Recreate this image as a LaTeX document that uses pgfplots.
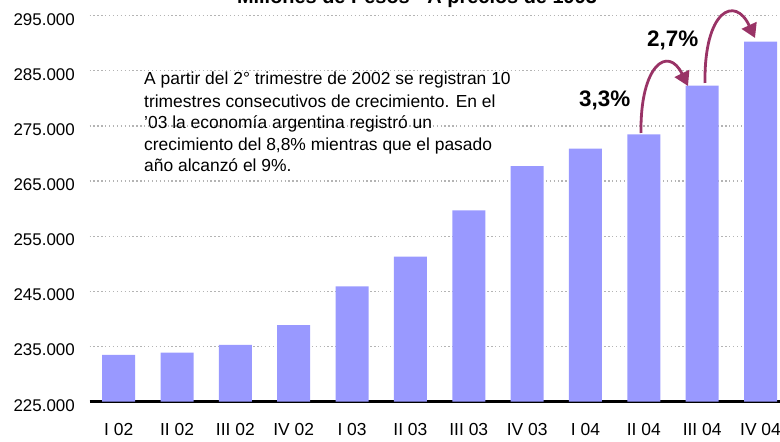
\documentclass[border=0pt]{standalone}
\usepackage{fontspec}
\setmainfont{Liberation Sans}
\usepackage{pgfplots}
\pgfplotsset{compat=1.18}
\usetikzlibrary{arrows.meta}
\definecolor{barc}{HTML}{9999FF}
\definecolor{arrc}{HTML}{993366}
\definecolor{gridc}{HTML}{B4B4B4}
\begin{document}
\begin{tikzpicture}
\begin{axis}[
  at={(89.5bp,40.3bp)}, anchor=south west,
  scale only axis, width=700.2bp, height=386bp,
  xmin=-0.5, xmax=11.5, ymin=225000, ymax=295000,
  scaled y ticks=false,
  axis lines*=left, separate axis lines,
  x axis line style={black, line width=2.5bp, -},
  y axis line style={draw=none},
  major tick length=0pt, tick style={draw=none},
  xtick={0,1,2,3,4,5,6,7,8,9,10,11},
  xticklabels={I 02,II 02,III 02,IV 02,I 03,II 03,III 03,IV 03,I 04,II 04,III 04,IV 04},
  ytick={225000,235000,245000,255000,265000,275000,285000,295000},
  yticklabels={225.000,235.000,245.000,255.000,265.000,275.000,285.000,295.000},
  xticklabel style={font=\fontsize{17.5}{20}\selectfont, anchor=base, inner sep=0pt, yshift=-34bp},
  yticklabel style={font=\fontsize{17}{20}\selectfont, anchor=base east, inner sep=0pt, xshift=-14.5bp, yshift=-9.3bp},
  ymajorgrids,
  grid style={gridc, line width=1.3bp, dash pattern=on 1.3bp off 2.6bp},
  clip=false,
]
\addplot[ybar, bar width=33bp, fill=barc, draw=none] coordinates {
  (0,233500) (1,233900) (2,235300) (3,238900) (4,245900) (5,251300)
  (6,259700) (7,267700) (8,270900) (9,273500) (10,282300) (11,290300)
};
\end{axis}
% annotations (page coordinates, y measured from bottom)
\node[anchor=base, inner sep=0pt, font=\bfseries\fontsize{20}{22}\selectfont] at (417bp,438bp) {Millones de Pesos - A precios de 1993};
\begin{scope}[every node/.style={anchor=base west, inner sep=0pt, font=\fontsize{17.5}{20}\selectfont}]
\node at (144bp,357bp) {A partir del 2° trimestre de 2002 se registran 10};
\node at (144bp,334.5bp) {trimestres consecutivos de crecimiento. En el};
\node at (144bp,313.5bp) {{\char39}03 la economía argentina registró un};
\node at (144bp,291.5bp) {crecimiento del 8,8\% mientras que el pasado};
\node at (144bp,270bp) {año alcanzó el 9\%.};
\end{scope}
\node[anchor=base west, inner sep=0pt, font=\bfseries\fontsize{22.5}{24}\selectfont] at (579bp,335bp) {3,3\%};
\node[anchor=base west, inner sep=0pt, font=\bfseries\fontsize{22.5}{24}\selectfont] at (647bp,395bp) {2,7\%};
\draw[arrc, line width=2.8bp, -{Triangle[width=16bp,length=14bp]}]
  (641bp,309bp) .. controls (640bp,377bp) and (668bp,397bp) .. (688bp,356bp);
\draw[arrc, line width=2.8bp, -{Triangle[width=16bp,length=14bp]}]
  (705bp,359bp) .. controls (704bp,432bp) and (735bp,447bp) .. (755bp,404bp);
\pgfresetboundingbox
\useasboundingbox (0,0) rectangle (780bp,442bp);
\end{tikzpicture}
\end{document}
